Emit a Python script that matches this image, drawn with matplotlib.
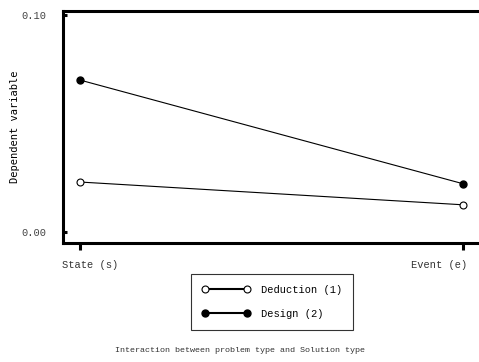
import matplotlib
matplotlib.use("Agg")
import matplotlib.pyplot as plt
import matplotlib.transforms as mtransforms

plt.rcParams['font.family'] = ['Liberation Mono', 'DejaVu Sans Mono']

solution_types = ["State (s)", "Event (e)"]
deduction = [0.023, 0.0125]
design = [0.070, 0.0222]
y_ticks = [0.00, 0.10]
y_tick_labels = ["0.00", "0.10"]

fig = plt.figure(figsize=(4.79, 3.62), dpi=100)
ax = fig.add_axes([63/479, 1-243/362, (478-63)/479, (243-11)/362])

x = list(range(len(solution_types)))
ax.plot(x, deduction, color='black', lw=0.8, marker='o', ms=5,
        mfc='white', mec='black', mew=0.8, label='Deduction (1)')
ax.plot(x, design, color='black', lw=0.8, marker='o', ms=5,
        mfc='black', mec='black', label='Design (2)')

ax.set_xlim(-0.044, 1.039)
ax.set_ylim(-0.0051, 0.1018)
ax.set_xticks(x)
ax.set_xticklabels(solution_types, fontsize=7.5, color='#333333')
ax.set_yticks(y_ticks)
ax.set_yticklabels(y_tick_labels, fontsize=7.5, color='#444444')
ax.tick_params(axis='y', direction='in', length=3, width=2.2, pad=12)
ax.tick_params(axis='x', direction='out', length=5, width=2.2, pad=7)

# labels sit slightly off their ticks in the original
shifts = [10, -24]
for lab, dx in zip(ax.get_xticklabels(), shifts):
    lab.set_transform(lab.get_transform() +
                      mtransforms.ScaledTranslation(dx/100, 0, fig.dpi_scale_trans))

for s in ['left', 'top', 'bottom']:
    ax.spines[s].set_linewidth(2.2)
ax.spines['right'].set_visible(False)

ax.set_ylabel("Dependent variable", fontsize=7.5, family='DejaVu Sans Mono')
ax.yaxis.set_label_coords((20-63)/415, 0.5)

leg = fig.legend(loc='center', bbox_to_anchor=(272/479, 1-302/362),
                 numpoints=2, handlelength=4.6, fontsize=7.5, frameon=True,
                 fancybox=False, edgecolor='black', borderpad=1.1,
                 labelspacing=1.35, handletextpad=1.0)
leg.get_frame().set_linewidth(0.8)
for h in leg.get_lines():
    h.set_linewidth(1.5)

fig.text(240/479, 1-350/362, "Interaction between problem type and Solution type",
         ha='center', va='center', fontsize=6, color='#333333')

fig.savefig("out.png", dpi=100)
